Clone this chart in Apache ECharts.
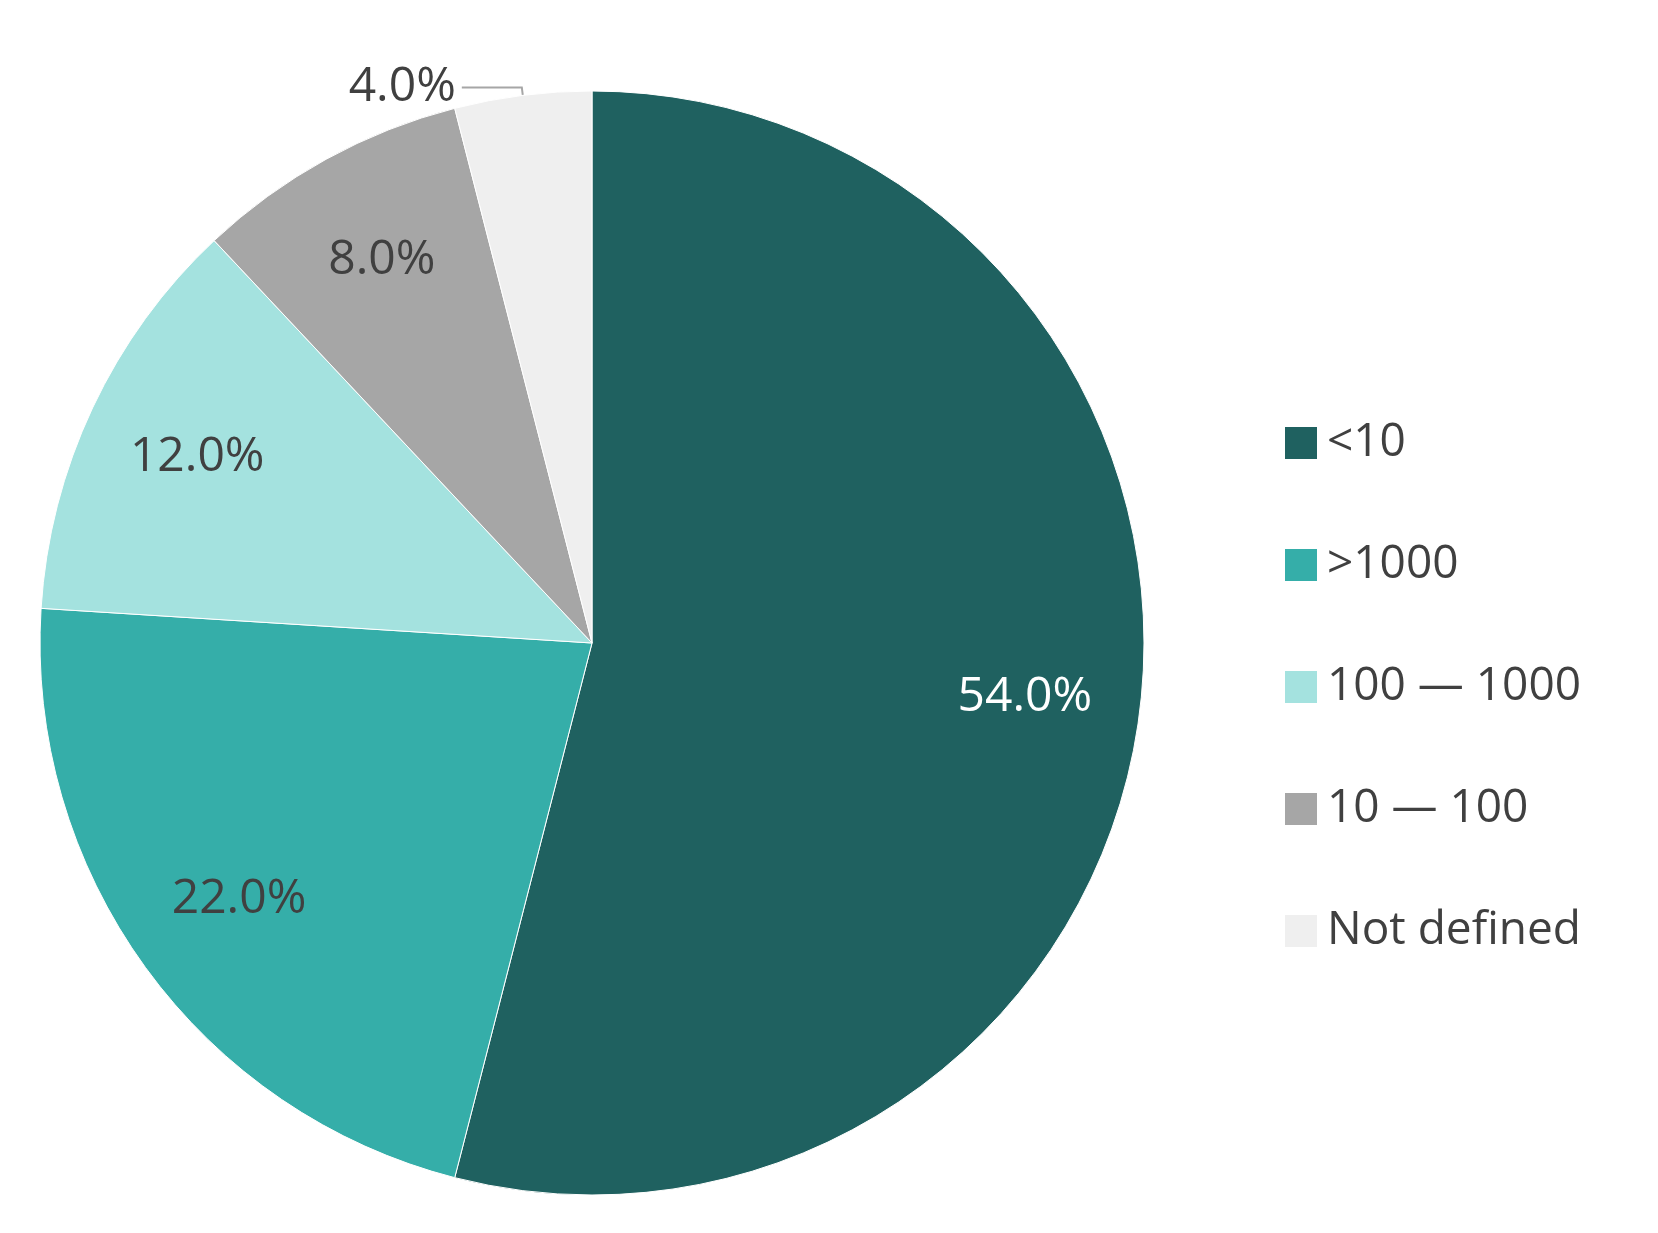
<!DOCTYPE html>
<html><head><meta charset="utf-8">
<script src="https://cdn.jsdelivr.net/npm/echarts@6/dist/echarts.min.js"></script>
<style>html,body{margin:0;background:#fff}#c{width:1658px;height:1233px}</style>
</head><body><div id="c"></div>
<script>
const categories = ['<10', '>1000', '100 — 1000', '10 — 100', 'Not defined'];
const values = [54.0, 22.0, 12.0, 8.0, 4.0];
const colors = ['#1f6160', '#35aea9', '#a4e2df', '#a6a6a6', '#efefef'];
const labelColors = ['#ffffff', '#404040', '#404040', '#404040', '#404040'];

const chart = echarts.init(document.getElementById('c'));
const center = [592, 643];
const R = 552;
const mainData = categories.map((n, i) => ({
  name: n, value: values[i], itemStyle: {color: colors[i]},
  label: i === 4 ? {show: true} : {show: false},
  labelLine: {show: i === 4}
}));
const labelData = categories.map((n, i) => ({
  name: n, value: values[i],
  label: {show: i !== 4, color: labelColors[i]}
}));
chart.setOption({
  animation: false,
  legend: {
    data: categories, orient: 'vertical', left: 1278, top: 415,
    itemWidth: 34, itemHeight: 34, itemGap: 76, icon: 'rect',
    textStyle: {fontSize: 46, color: '#404040', fontFamily: 'Open Sans', padding: [0,0,0,4]}
  },
  series: [{
    type: 'pie', center: center, radius: [0, R], startAngle: 90, clockwise: true,
    data: mainData, silent: true,
    itemStyle: {borderColor: '#ffffff', borderWidth: 1},
    label: {position: 'outside', formatter: p => p.value.toFixed(1) + '%',
      fontSize: 48, color: '#404040', fontFamily: 'Open Sans', distanceToLabelLine: 6},
    labelLine: {length: 8, length2: 60, lineStyle: {color: '#a6a6a6', width: 2}}
  }, {
    type: 'pie', center: center, radius: [0, 2 * 0.785 * R], startAngle: 90, clockwise: true,
    data: labelData, silent: true, legendHoverLink: false,
    itemStyle: {color: 'rgba(0,0,0,0)'},
    label: {position: 'inside', formatter: p => p.value.toFixed(1) + '%',
      fontSize: 48, fontFamily: 'Open Sans'},
    labelLine: {show: false}
  }]
});
</script></body></html>
